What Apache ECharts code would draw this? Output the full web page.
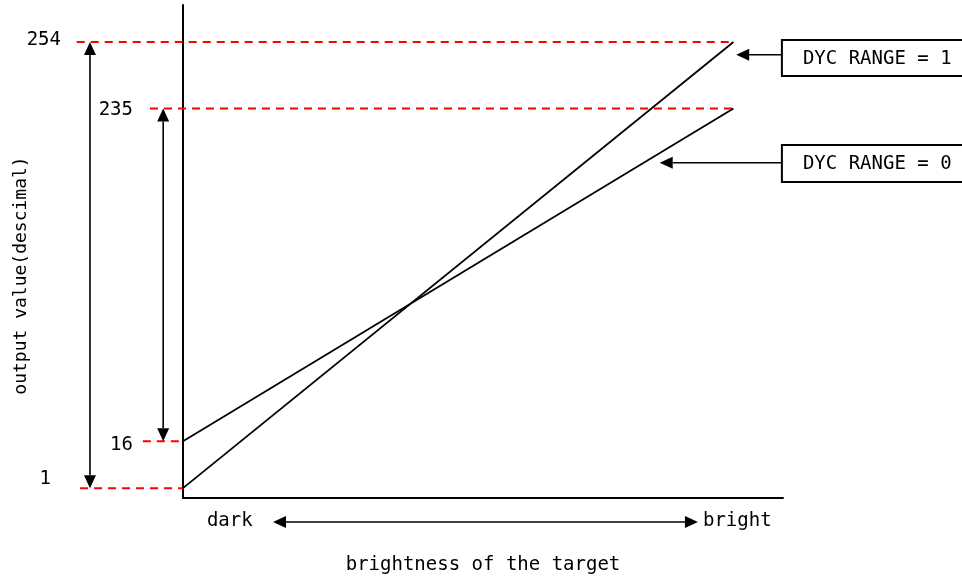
<!DOCTYPE html>
<html><head><meta charset="utf-8">
<script src="https://cdn.jsdelivr.net/npm/echarts@6/dist/echarts.min.js"></script>
<style>html,body{margin:0;padding:0;background:#fff}#c{width:962px;height:577px}</style>
</head><body><div id="c"></div>
<script>
// Output levels (decimal) and where each sits on the schematic (not-to-scale) vertical axis
const levels = [1, 16, 235, 254];
const levelAxisPos = [2, 11.5, 79, 92.5];

// Two transfer lines: level at "dark" (x=0) -> level at "bright" (x=1)
const seriesNames = ['DYC RANGE = 1', 'DYC RANGE = 0'];
const seriesStartLevel = [1, 16];
const seriesEndLevel = [254, 235];
const brightnessRange = [0, 1];

// x-axis tick labels
const xTickLabels = ['dark', 'bright'];
const xTickPos = [0.085, 1.007];

// red dashed guide lines: level, left end, right end (brightness units)
const guideLevels = [254, 235, 16, 1];
const guideLeft = [-0.193, -0.06, -0.073, -0.187];
const guideRight = [1, 1, 0, 0];

// double-headed range arrows (left of the axis)
const rangeArrowX = [-0.169, -0.036];
const rangeArrowFrom = [1, 16];
const rangeArrowTo = [254, 235];

// callout boxes
const calloutTexts = ['DYC RANGE = 1', 'DYC RANGE = 0'];
const calloutBoxLeft = [1.088, 1.088];
const calloutBoxTop = [92.9, 71.6];
const calloutBoxBottom = [85.6, 64.1];
const calloutArrowY = [89.9, 68];
const calloutArrowTip = [1.005, 0.866];

// dark <-> bright arrow under the axis
const brightnessArrowFrom = 0.1635;
const brightnessArrowTo = 0.9355;
const brightnessArrowY = -4.87;

const FONT = '"DejaVu Sans Mono", "Liberation Mono", monospace';
const FS = 19;
const pos = lv => levelAxisPos[levels.indexOf(lv)];

const lineSeries = seriesNames.map((n, i) => ({
  type: 'line', name: n, clip: false, symbol: 'none', z: 4,
  data: [[brightnessRange[0], pos(seriesStartLevel[i])], [brightnessRange[1], pos(seriesEndLevel[i])]],
  lineStyle: { color: '#000', width: 1.8 }
}));

const guideData = guideLevels.map((lv, i) => [guideLeft[i], pos(lv), guideRight[i]]);
function renderGuide(params, api) {
  const a = api.coord([api.value(0), api.value(1)]);
  const b = api.coord([api.value(2), api.value(1)]);
  return { type: 'line', shape: { x1: a[0], y1: a[1], x2: b[0], y2: b[1] },
    style: { stroke: '#ff0000', lineWidth: 2, lineDash: [8, 6] } };
}

const arrowData = [];
rangeArrowX.forEach((x, i) => arrowData.push([x, pos(rangeArrowFrom[i]), x, pos(rangeArrowTo[i]), 1, 1]));
calloutTexts.forEach((t, i) => arrowData.push([calloutBoxLeft[i], calloutArrowY[i], calloutArrowTip[i], calloutArrowY[i], 0, 1]));
arrowData.push([brightnessArrowFrom, brightnessArrowY, brightnessArrowTo, brightnessArrowY, 1, 1]);

function renderArrow(params, api) {
  const p1 = api.coord([api.value(0), api.value(1)]);
  const p2 = api.coord([api.value(2), api.value(3)]);
  const hs = api.value(4), he = api.value(5);
  const dx = p2[0] - p1[0], dy = p2[1] - p1[1];
  const len = Math.hypot(dx, dy), ux = dx / len, uy = dy / len;
  const L = 13, W = 6;
  const a = hs ? [p1[0] + ux * L, p1[1] + uy * L] : p1;
  const b = he ? [p2[0] - ux * L, p2[1] - uy * L] : p2;
  const children = [{ type: 'line', shape: { x1: a[0], y1: a[1], x2: b[0], y2: b[1] }, style: { stroke: '#000', lineWidth: 1.6 } }];
  const head = (tip, base) => ({ type: 'polygon', shape: { points: [tip, [base[0] - uy * W, base[1] + ux * W], [base[0] + uy * W, base[1] - ux * W]] }, style: { fill: '#000' } });
  if (hs) children.push(head(p1, a));
  if (he) children.push(head(p2, b));
  return { type: 'group', children };
}

const calloutData = calloutTexts.map((t, i) => [calloutBoxLeft[i], calloutBoxTop[i], calloutBoxBottom[i]]);
function renderCallout(params, api) {
  const tl = api.coord([api.value(0), api.value(1)]);
  const br = api.coord([api.value(0), api.value(2)]);
  return { type: 'group', children: [
    { type: 'rect', shape: { x: tl[0], y: tl[1], width: 300, height: br[1] - tl[1] }, style: { fill: '#fff', stroke: '#000', lineWidth: 2 } },
    { type: 'text', style: { text: calloutTexts[params.dataIndex], x: tl[0] + 21, y: (tl[1] + br[1]) / 2 + 1, verticalAlign: 'middle', fontFamily: FONT, fontSize: FS, fill: '#000' } }
  ]};
}

const labelRich = {
  l0: { padding: [0, 82, 18, 0] },
  l1: { padding: [8, 0, 0, 0] },
  l2: { padding: [4, 0, 0, 0] },
  l3: { padding: [0, 72, 4, 0] }
};
Object.values(labelRich).forEach(s => { s.fontFamily = FONT; s.fontSize = FS; s.color = '#000'; });

const option = {
  animation: false,
  backgroundColor: '#fff',
  grid: { left: 183, top: 5, width: 600, height: 493, containLabel: false, outerBoundsMode: 'none' },
  xAxis: {
    type: 'value', min: 0, max: 1.09,
    axisLine: { show: true, onZero: false, lineStyle: { color: '#000', width: 2 } },
    axisTick: { show: false }, splitLine: { show: false },
    axisLabel: {
      customValues: xTickPos, margin: 14, fontFamily: FONT, fontSize: FS, color: '#000',
      formatter: v => { let k = 0; xTickPos.forEach((p, i) => { if (Math.abs(p - v) < Math.abs(xTickPos[k] - v)) k = i; }); return xTickLabels[k]; }
    },
    name: 'brightness of the target', nameLocation: 'middle', nameGap: 58, nameMoveOverlap: false,
    nameTextStyle: { fontFamily: FONT, fontSize: FS, color: '#000' }
  },
  yAxis: {
    type: 'value', min: 0, max: 100,
    axisLine: { show: true, onZero: false, lineStyle: { color: '#000', width: 2 } },
    axisTick: { show: false }, splitLine: { show: false },
    axisLabel: {
      customValues: levelAxisPos, margin: 50, fontFamily: FONT, fontSize: FS, color: '#000',
      formatter: v => { let k = 0; levelAxisPos.forEach((p, i) => { if (Math.abs(p - v) < Math.abs(levelAxisPos[k] - v)) k = i; }); return '{l' + k + '|' + levels[k] + '}'; },
      rich: labelRich
    },
    name: 'output value(descimal)', nameLocation: 'middle', nameRotate: 90, nameGap: 153, nameMoveOverlap: false,
    nameTextStyle: { fontFamily: FONT, fontSize: 18, color: '#000', padding: [0, 48, 0, 0] }
  },
  series: [
    { type: 'custom', renderItem: renderGuide, data: guideData, clip: false, z: 3,
      encode: { x: [0, 2], y: 1 }, silent: true },
    ...lineSeries,
    { type: 'custom', renderItem: renderArrow, data: arrowData, clip: false, z: 5,
      encode: { x: [0, 2], y: [1, 3] }, silent: true },
    { type: 'custom', renderItem: renderCallout, data: calloutData, clip: false, z: 6,
      encode: { x: 0, y: [1, 2] }, silent: true }
  ]
};
const chart = echarts.init(document.getElementById('c'), null, { renderer: 'canvas' });
chart.setOption(option);
</script></body></html>
